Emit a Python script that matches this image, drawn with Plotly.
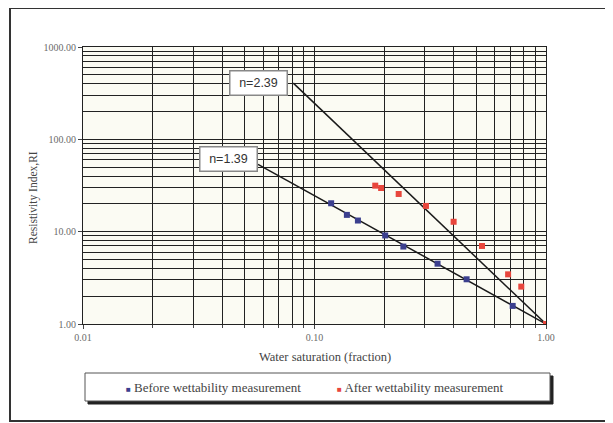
import plotly.graph_objects as go

# Data
sw_before = [0.118, 0.138, 0.154, 0.202, 0.242, 0.340, 0.454, 0.718, 1.00]
ri_before = [20.3, 15.2, 13.2, 9.1, 6.9, 4.5, 3.05, 1.57, 1.00]

sw_after = [0.183, 0.194, 0.231, 0.303, 0.399, 0.529, 0.686, 0.782, 1.00]
ri_after = [31.5, 29.7, 25.6, 19.0, 12.8, 7.0, 3.45, 2.54, 1.00]

n_before = 1.39
n_after = 2.39
line_before_sw = [0.057, 1.0]
line_after_sw = [0.081, 1.0]

x_ticks = [0.01, 0.1, 1.0]
x_ticklabels = ["0.01", "0.10", "1.00"]
y_ticks = [1, 10, 100, 1000]
y_ticklabels = ["1.00", "10.00", "100.00", "1000.00"]

blue = "#3b3f8e"
red = "#e8463c"
serif = "Liberation Serif, Times New Roman, serif"
sans = "Liberation Sans, Arial, sans-serif"

x_minor = [m * 10.0 ** e for e in (-2, -1) for m in range(2, 10)]
y_minor = [m * 10.0 ** e for e in (0, 1, 2) for m in range(2, 10)]

fig = go.Figure()

fig.add_trace(go.Scatter(
    x=line_after_sw, y=[s ** (-n_after) for s in line_after_sw],
    mode="lines", line=dict(color="#1a1a1a", width=1.5), showlegend=False))
fig.add_trace(go.Scatter(
    x=line_before_sw, y=[s ** (-n_before) for s in line_before_sw],
    mode="lines", line=dict(color="#1a1a1a", width=1.5), showlegend=False))

fig.add_trace(go.Scatter(
    x=sw_before, y=ri_before, mode="markers", name="Before wettability measurement",
    marker=dict(symbol="square", size=6, color=blue), showlegend=False))
fig.add_trace(go.Scatter(
    x=sw_after, y=ri_after, mode="markers", name="After wettability measurement",
    marker=dict(symbol="square", size=6, color=red), showlegend=False))

# page offset (body margin of the html page is 8px)
OFF = 8
W, H = 613 - OFF, 423 - OFF
# plot area on the page: x 83..546, y 47..324
L, T = 83 - OFF, 47 - OFF
R = W - (546 - OFF)
B = H - (324 - OFF)
pw, ph = W - L - R, H - T - B


def px(xp):
    return (xp - OFF - L) / pw


def py(yp):
    return (H - B - (yp - OFF)) / ph


fig.update_layout(
    width=W, height=H,
    margin=dict(l=L, r=R, t=T, b=B),
    paper_bgcolor="white",
    plot_bgcolor="#fbfbf3",
    showlegend=False,
)

fig.update_xaxes(
    type="log", range=[-2, 0],
    tickmode="array", tickvals=x_ticks, ticktext=x_ticklabels,
    showgrid=True, gridcolor="#222222", gridwidth=1,
    minor=dict(tickmode="array", tickvals=x_minor, showgrid=True,
               gridcolor="#222222", gridwidth=1, ticks="outside",
               ticklen=3, tickcolor="#444"),
    ticks="outside", ticklen=4, tickcolor="#444",
    showline=True, linecolor="#222222", linewidth=1, mirror=True,
    tickfont=dict(family=serif, size=10, color="#6a6a6a"),
    zeroline=False,
)
fig.update_yaxes(
    type="log", range=[0, 3],
    tickmode="array", tickvals=y_ticks, ticktext=y_ticklabels,
    showgrid=True, gridcolor="#222222", gridwidth=1,
    minor=dict(tickmode="array", tickvals=y_minor, showgrid=True,
               gridcolor="#222222", gridwidth=1),
    ticks="outside", ticklen=4, tickcolor="#444",
    showline=True, linecolor="#222222", linewidth=1, mirror=True,
    tickfont=dict(family=serif, size=10, color="#6a6a6a"),
    zeroline=False,
)

shapes = [
    # outer frame
    dict(type="rect", xref="paper", yref="paper",
         x0=px(10), x1=px(611), y0=py(421), y1=py(8),
         line=dict(color="#333333", width=2), fillcolor="rgba(0,0,0,0)"),
    # legend shadow
    dict(type="rect", xref="paper", yref="paper",
         x0=px(88), x1=px(553), y0=py(404), y1=py(376),
         line=dict(color="#222222", width=1), fillcolor="#222222"),
    # legend box
    dict(type="rect", xref="paper", yref="paper",
         x0=px(85), x1=px(550), y0=py(401), y1=py(373),
         line=dict(color="#555555", width=1), fillcolor="white"),
]
fig.update_layout(shapes=shapes)

annotations = [
    dict(text="Water saturation (fraction)", xref="paper", yref="paper",
         x=px(325), y=py(357), xanchor="center", yanchor="middle", showarrow=False,
         font=dict(family=serif, size=12.5, color="#444444")),
    dict(text="Resistivity Index,RI", xref="paper", yref="paper",
         x=px(33), y=py(198), xanchor="center", yanchor="middle",
         showarrow=False, textangle=-90,
         font=dict(family=serif, size=11.5, color="#444444")),
    dict(text="n=2.39", xref="paper", yref="paper",
         x=px(258), y=py(82.5), xanchor="center", yanchor="middle", showarrow=False,
         width=54, height=21, bgcolor="white",
         bordercolor="#888888", borderwidth=1.5, borderpad=1,
         font=dict(family=sans, size=12.5, color="#333333")),
    dict(text="n=1.39", xref="paper", yref="paper",
         x=px(228), y=py(158.5), xanchor="center", yanchor="middle", showarrow=False,
         width=54, height=21, bgcolor="white",
         bordercolor="#888888", borderwidth=1.5, borderpad=1,
         font=dict(family=sans, size=12.5, color="#333333")),
    dict(text=f"<span style='color:{blue};font-size:8px'>■</span> Before wettability measurement",
         xref="paper", yref="paper", x=px(124), y=py(387), xanchor="left", yanchor="middle",
         showarrow=False, font=dict(family=serif, size=13, color="#444444")),
    dict(text=f"<span style='color:{red};font-size:8px'>■</span> After wettability measurement",
         xref="paper", yref="paper", x=px(335), y=py(387), xanchor="left", yanchor="middle",
         showarrow=False, font=dict(family=serif, size=13, color="#444444")),
]
fig.update_layout(annotations=annotations)

fig.write_html("out.html")
